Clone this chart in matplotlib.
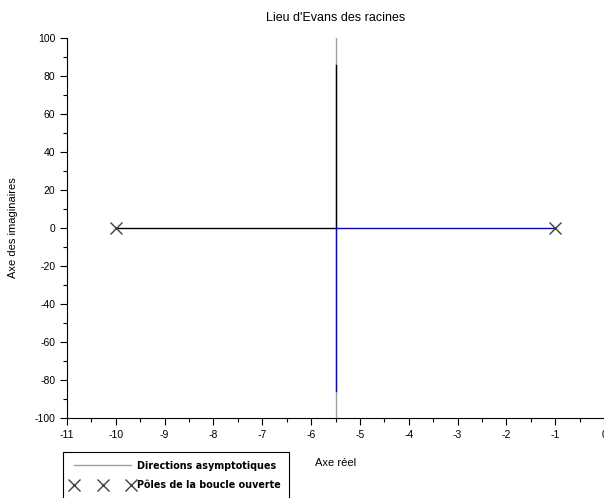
import matplotlib
matplotlib.use("Agg")
import matplotlib.pyplot as plt
from matplotlib.ticker import MultipleLocator

plt.rcParams['font.family'] = ['Liberation Sans', 'DejaVu Sans']
plt.rcParams['axes.unicode_minus'] = False

# Data
poles_re = [-10, -1]
poles_im = [0, 0]
branch1_re = [-10, -5.5, -5.5]
branch1_im = [0, 0, 86]
branch2_re = [-1, -5.5, -5.5]
branch2_im = [0, 0, -86]
asym_re = [-5.5, -5.5]
asym_im = [-100, 100]
xticks = list(range(-11, 1))
yticks = list(range(-100, 101, 20))

fig = plt.figure(figsize=(6.04, 4.98), dpi=100)
ax = fig.add_axes([0.111, 0.1606, 0.889, 0.7631])

asym, = ax.plot(asym_re, asym_im, color='#a0a0a0', lw=1.0, zorder=1)
ax.plot(branch1_re, branch1_im, color='black', lw=1.0, zorder=2)
ax.plot(branch2_re, branch2_im, color='#0000ff', lw=1.0, zorder=2)
pol, = ax.plot(poles_re, poles_im, ls='none', marker='x', ms=8, mew=1.0,
               color='#404040', zorder=3)

ax.set_xlim(-11, 0)
ax.set_ylim(-100, 100)
ax.set_xticks(xticks)
ax.set_yticks(yticks)
ax.xaxis.set_minor_locator(MultipleLocator(0.5))
ax.yaxis.set_minor_locator(MultipleLocator(10))
ax.tick_params(which='major', direction='out', length=5, width=0.8, labelsize=7.5)
ax.tick_params(which='minor', direction='out', length=3, width=0.8)
ax.spines['top'].set_visible(False)
ax.spines['right'].set_visible(False)

ax.set_title("Lieu d'Evans des racines", fontsize=9, pad=12)
ax.set_xlabel("Axe réel", fontsize=8, labelpad=13)
ax.set_ylabel("Axe des imaginaires", fontsize=8, labelpad=12)

leg = fig.legend([asym, pol], ["Directions asymptotiques", "Pôles de la boucle ouverte"],
                 loc='upper left', bbox_to_anchor=(0.104, 0.092),
                 numpoints=3, handlelength=6.5, fancybox=False, framealpha=1,
                 edgecolor='black',
                 prop={'family': 'DejaVu Sans', 'size': 6.9, 'weight': 'bold'},
                 borderaxespad=0, borderpad=0.9, handletextpad=0.3,
                 labelspacing=1.0)
leg.get_frame().set_linewidth(0.8)

fig.savefig("out.png", dpi=100)
